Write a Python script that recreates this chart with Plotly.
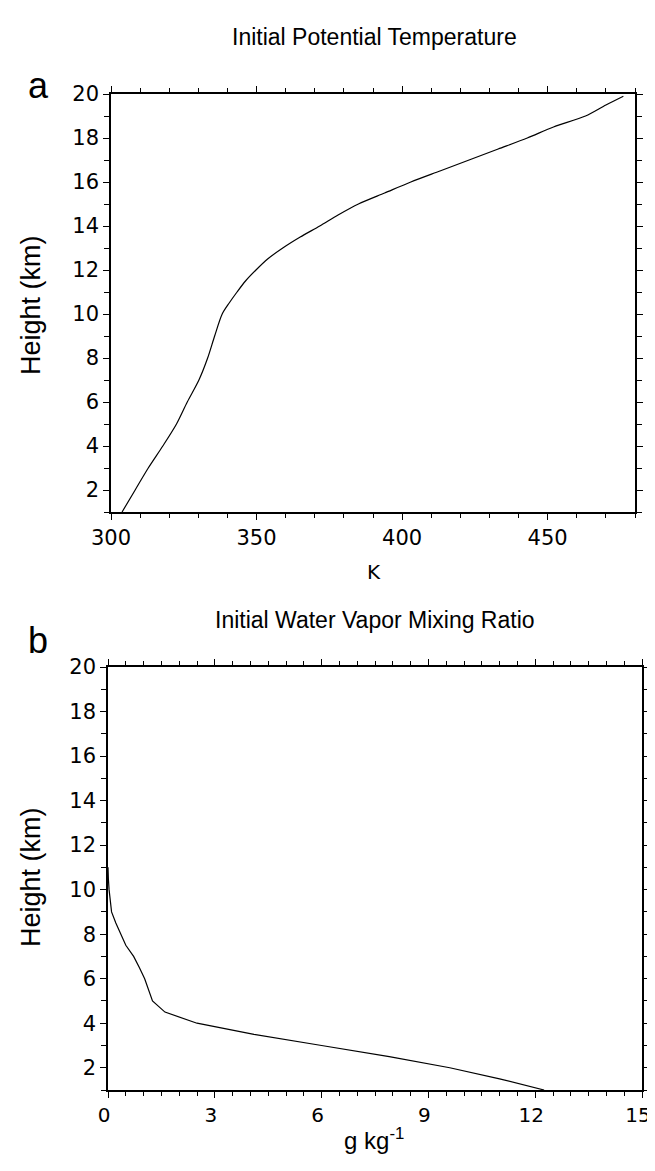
import plotly.graph_objects as go

# Panel a: initial potential temperature profile
height_a_km = [1, 2, 3, 4, 5, 6, 7, 8, 9, 10, 10.5, 11, 11.5, 12, 12.5, 13, 13.5, 14,
               14.5, 15, 15.5, 16, 16.5, 17, 17.5, 18, 18.5, 19, 19.5, 19.9]
theta_K = [303.8, 308.3, 312.8, 317.8, 322.5, 326.2, 330.2, 333.2, 335.6, 338.2, 340.6,
           343.3, 346.2, 349.8, 353.8, 359, 365, 371.7, 378, 385, 394, 403, 413, 423,
           433, 443, 452, 463, 470, 476]

# Panel b: initial water vapor mixing ratio profile
height_b_km = [1, 1.5, 2, 2.5, 3, 3.5, 4, 4.5, 5, 5.5, 6, 6.5, 7, 7.5, 8, 8.5, 9,
               9.5, 10, 10.5, 11]
qv_gkg = [12.25, 11.0, 9.6, 7.9, 6.0, 4.1, 2.5, 1.6, 1.25, 1.15, 1.03, 0.88, 0.72,
          0.5, 0.35, 0.22, 0.1, 0.06, 0.03, 0.01, 0.0]

OFF = 8  # page body margin
W, H = 655 - OFF, 1150
def px(x):
    return (x - OFF) / W
def py(y):
    return 1 - (y - OFF) / H

fig = go.Figure()
fig.add_trace(go.Scatter(x=theta_K, y=height_a_km, mode="lines",
                         line=dict(color="black", width=1.2, shape="spline", smoothing=0.8),
                         xaxis="x", yaxis="y", showlegend=False))
fig.add_trace(go.Scatter(x=qv_gkg, y=height_b_km, mode="lines",
                         line=dict(color="black", width=1.2),
                         xaxis="x2", yaxis="y2", showlegend=False))

tickfont = dict(family="DejaVu Sans", size=21, color="black")
common = dict(showline=True, linecolor="black", linewidth=1.5, mirror="ticks",
              ticks="outside", tickcolor="black", tickwidth=1.2, ticklen=6,
              showgrid=False, zeroline=False, tickfont=tickfont, automargin=False,
              ticklabeloverflow="allow")
common_x2 = dict(common)
common_x2["tickfont"] = dict(family="DejaVu Sans", size=20, color="black")

fig.update_layout(
    template="none",
    width=W, height=H,
    margin=dict(l=0, r=0, t=0, b=0),
    paper_bgcolor="white", plot_bgcolor="white",
    xaxis=dict(domain=[px(111), px(635)], range=[300, 480], dtick=50, tick0=300,
               anchor="y", minor=dict(dtick=10, ticklen=4, ticks="outside",
                                      tickcolor="black", tickwidth=1), **common),
    yaxis=dict(domain=[py(512), py(94)], range=[1, 20], dtick=2, tick0=0,
               anchor="x", minor=dict(dtick=1, ticklen=5, ticks="outside",
                                      tickcolor="black", tickwidth=1), **common),
    xaxis2=dict(domain=[px(108), px(642)], range=[0, 15], dtick=3, tick0=0,
                anchor="y2", ticklabelshift=-4,
                minor=dict(dtick=0.5, ticklen=4, ticks="outside",
                           tickcolor="black", tickwidth=1), **common_x2),
    yaxis2=dict(domain=[py(1090), py(667)], range=[1, 20], dtick=2, tick0=0,
                anchor="x2", minor=dict(dtick=1, ticklen=5, ticks="outside",
                                        tickcolor="black", tickwidth=1), **common),
)

cond = "Liberation Sans"
annots = [
    dict(text="Initial Potential Temperature", x=px(374), y=py(37), size=23, fam=cond, angle=0),
    dict(text="Initial Water Vapor Mixing Ratio", x=px(375), y=py(620), size=23, fam=cond, angle=0),
    dict(text="a", x=px(38), y=py(86), size=36, fam=cond, angle=0),
    dict(text="b", x=px(38), y=py(640), size=36, fam=cond, angle=0),
    dict(text="Height (km)", x=px(31), y=py(305), size=27, fam=cond, angle=-90),
    dict(text="Height (km)", x=px(31), y=py(877), size=27, fam=cond, angle=-90),
    dict(text="K", x=px(374), y=py(572), size=20, fam="DejaVu Sans", angle=0),
    dict(text="g kg<sup>-1</sup>", x=px(374), y=py(1139), size=24, fam=cond, angle=0),
]
for a in annots:
    fig.add_annotation(text=a["text"], x=a["x"], y=a["y"], xref="paper", yref="paper",
                       xanchor="center", yanchor="middle", showarrow=False,
                       textangle=a["angle"],
                       font=dict(family=a["fam"], size=a["size"], color="black"))

fig.write_html("out.html")
